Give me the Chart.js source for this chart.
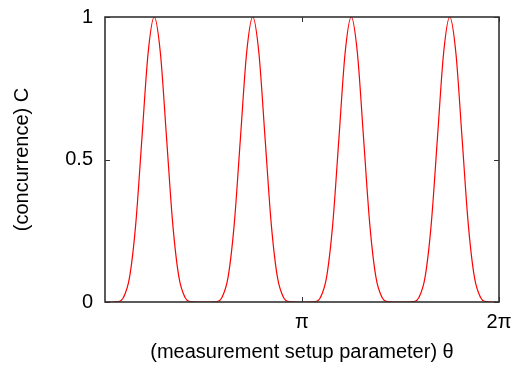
<!DOCTYPE html>
<html>
<head>
<meta charset="utf-8">
<script src="https://cdn.jsdelivr.net/npm/chart.js@4/dist/chart.umd.min.js"></script>
<style>
  html, body { margin: 0; padding: 0; background: #fff; }
</style>
</head>
<body>
<canvas id="concChart" width="520" height="367"></canvas>
<script>
// theta sampled every pi/32 (index 0..64 -> 0..2pi)
const sampleIndex = [
  0, 1, 2, 3, 4, 5, 6, 7, 8, 9, 10, 11, 12, 13, 14, 15,
  16, 17, 18, 19, 20, 21, 22, 23, 24, 25, 26, 27, 28, 29, 30, 31,
  32, 33, 34, 35, 36, 37, 38, 39, 40, 41, 42, 43, 44, 45, 46, 47,
  48, 49, 50, 51, 52, 53, 54, 55, 56, 57, 58, 59, 60, 61, 62, 63,
  64
];
// concurrence C
const concurrence = [
  0, 0, 0.001, 0.016, 0.088, 0.275, 0.575, 0.873, 1, 0.873, 0.575, 0.275, 0.088, 0.016, 0.001, 0,
  0, 0, 0.001, 0.016, 0.088, 0.275, 0.575, 0.873, 1, 0.873, 0.575, 0.275, 0.088, 0.016, 0.001, 0,
  0, 0, 0.001, 0.016, 0.088, 0.275, 0.575, 0.873, 1, 0.873, 0.575, 0.275, 0.088, 0.016, 0.001, 0,
  0, 0, 0.001, 0.016, 0.088, 0.275, 0.575, 0.873, 1, 0.873, 0.575, 0.275, 0.088, 0.016, 0.001, 0,
  0
];
const xTickValues = [32, 64];
const xTickLabels = ['π', '2π'];
const yTickValues = [0, 0.5, 1];
const yTickLabels = ['0', '0.5', '1'];

const frameColor = '#333333';
const tickFont = { family: "'Liberation Sans', Arial, sans-serif", size: 20 };

// box frame + inward ticks on all four sides (gnuplot style)
const framePlugin = {
  id: 'frame',
  afterDraw(chart) {
    const { ctx, chartArea: a, scales } = chart;
    const len = 5;
    ctx.save();
    ctx.strokeStyle = frameColor;
    ctx.lineWidth = 1;
    scales.x.ticks.forEach(t => {
      const px = Math.round(scales.x.getPixelForValue(t.value)) + 0.5;
      ctx.beginPath();
      ctx.moveTo(px, a.bottom); ctx.lineTo(px, a.bottom - len);
      ctx.moveTo(px, a.top); ctx.lineTo(px, a.top + len);
      ctx.stroke();
    });
    scales.y.ticks.forEach(t => {
      const py = Math.round(scales.y.getPixelForValue(t.value)) + 0.5;
      ctx.beginPath();
      ctx.moveTo(a.left, py); ctx.lineTo(a.left + len, py);
      ctx.moveTo(a.right, py); ctx.lineTo(a.right - len, py);
      ctx.stroke();
    });
    ctx.lineWidth = 1.6;
    ctx.strokeRect(a.left, a.top, a.right - a.left, a.bottom - a.top);
    ctx.restore();
  }
};

const concData = {
  datasets: [{
    data: sampleIndex.map((x, i) => ({ x: x, y: concurrence[i] })),
    borderColor: '#ff0000',
    borderWidth: 1.2,
    pointRadius: 0,
    fill: false,
    cubicInterpolationMode: 'monotone'
  }]
};

const concOptions = {
  responsive: false,
  animation: false,
  layout: { padding: { top: 17, right: 21, left: 0, bottom: 0 } },
  plugins: { legend: { display: false }, tooltip: { enabled: false } },
  scales: {
    x: {
      type: 'linear',
      min: 0,
      max: 64,
      grid: { display: false, drawTicks: false },
      border: { display: false },
      afterFit: s => { s.height = 65; s.paddingLeft = 0; s.paddingRight = 0; },
      afterBuildTicks: s => { s.ticks = xTickValues.map(v => ({ value: v })); },
      ticks: {
        padding: 8,
        color: '#000',
        font: tickFont,
        maxRotation: 0,
        callback: v => xTickLabels[xTickValues.indexOf(v)]
      },
      title: {
        display: true,
        text: '(measurement setup parameter) θ',
        color: '#000',
        font: tickFont,
        padding: { top: 0, bottom: 3 }
      }
    },
    y: {
      min: 0,
      max: 1,
      grid: { display: false, drawTicks: false },
      border: { display: false },
      afterFit: s => { s.width = 105; s.paddingTop = 0; s.paddingBottom = 0; },
      afterBuildTicks: s => { s.ticks = yTickValues.map(v => ({ value: v })); },
      ticks: {
        padding: 12,
        color: '#000',
        font: tickFont,
        callback: v => yTickLabels[yTickValues.indexOf(v)]
      },
      title: {
        display: true,
        text: '(concurrence) C',
        color: '#000',
        font: tickFont,
        padding: { top: 10, bottom: 0 }
      }
    }
  }
};

const concChart = new Chart(document.getElementById('concChart'), {
  type: 'line',
  data: concData,
  options: concOptions,
  plugins: [framePlugin]
});
</script>
</body>
</html>
